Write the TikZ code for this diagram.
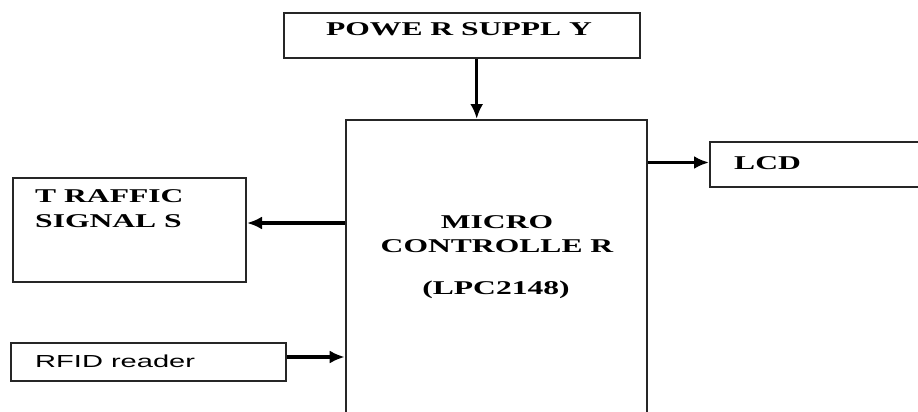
\documentclass[tikz,border=0pt]{standalone}
\usepackage{fontspec}
\setmainfont{Liberation Serif}
\newfontfamily\blkfont[FakeStretch=1.62]{Liberation Serif}
\newfontfamily\rfidfont[FakeStretch=1.67]{Liberation Sans}
\usepackage{tikz}
\usetikzlibrary{calc,arrows.meta}

\begin{document}
\begin{tikzpicture}[>={Latex[length=15pt,width=13pt]},x=1pt,y=-1pt,
    blk/.style={draw=black!85,line width=2pt,inner sep=0pt},
    lbl/.style={font=\blkfont\fontsize{19.5}{23}\selectfont\bfseries,inner sep=0pt,anchor=base},
    arr/.style={->,line width=3.2pt}]
    \clip (0,0) rectangle (918,412);
    %%%%%%%%%%%%%%%%%%%%%%%%%%%%%%%%%%%%%%%%%% blocks
    \node[blk,minimum width=356pt,minimum height=45pt] (power) at (462,35.2) {};
    \node[blk,minimum width=301pt,minimum height=320pt] (mc) at (496.2,280) {};
    \node[blk,minimum width=240pt,minimum height=45pt] (lcd) at (830,164.5) {};
    \node[blk,minimum width=233pt,minimum height=104pt] (traffic) at (129.5,230) {};
    \node[blk,minimum width=275pt,minimum height=38pt] (rfid) at (148.5,362) {};
    %%%%%%%%%%%%%%%%%%%%%%%%%%%%%%%%%%%%%%%%%% texts
    \node[lbl] (powertxt) at (459,36) {POWE R SUPPL Y};
    \node[lbl,anchor=base west] (traffictxt1) at (35,202) {T RAFFIC};
    \node[lbl,anchor=base west] (traffictxt2) at (35,227) {SIGNAL S};
    \node[lbl] (mctxt1) at (497,228) {MICRO};
    \node[lbl] (mctxt2) at (497,252) {CONTROLLE R};
    \node[lbl] (mctxt3) at (496,294) {(LPC2148)};
    \node[lbl,anchor=base west] (lcdtxt) at (734,169) {LCD};
    \node[font=\rfidfont\fontsize{17.4}{20}\selectfont,anchor=base west,inner sep=0pt] (rfidtxt) at (35,367) {RFID reader};
    %%%%%%%%%%%%%%%%%%%%%%%%%%%%%%%%%%%%%%%%%% arrows
    \draw[arr] ([xshift=-19.5pt]mc.north |- power.south) -- ([xshift=-19.5pt]mc.north);
    \draw[arr] ([yshift=2pt]mc.east |- lcd.west) -- ([yshift=2pt]lcd.west);
    \draw[arr] ([yshift=7pt]mc.west |- traffic.east) -- ([yshift=7pt]traffic.east);
    \draw[arr] ([yshift=5pt]rfid.east) -- ([yshift=5pt]mc.west |- rfid.east);
\end{tikzpicture}
\end{document}
